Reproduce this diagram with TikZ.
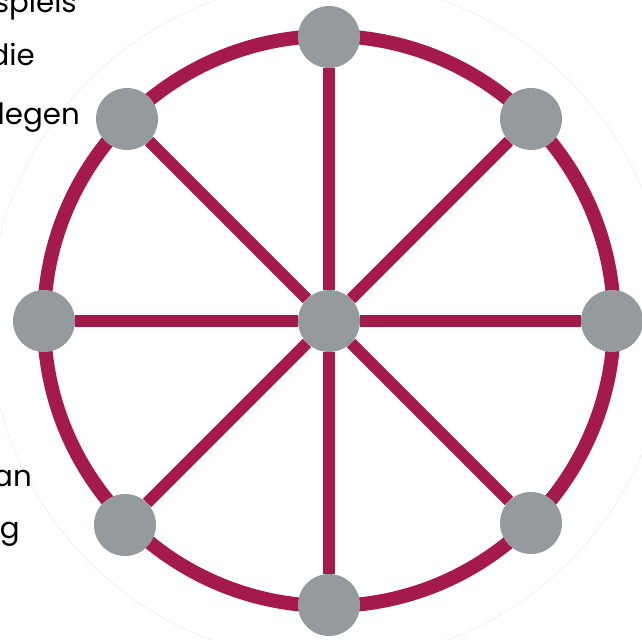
\documentclass[tikz,border=0pt]{standalone}
\usepackage{fontspec}
\setmainfont{Poppins}
\usetikzlibrary{backgrounds}
\definecolor{wheelred}{HTML}{A51A4D}
\definecolor{hubgray}{HTML}{959A9F}
\begin{document}
\begin{tikzpicture}[
    x=0.3mm, y=0.3mm,
    dot/.style={circle, fill=hubgray, minimum size=18.6mm, inner sep=0pt},
    spoke/.style={wheelred, line width=3.6mm},
    ring/.style={wheelred, line width=4.2mm},
    halo/.style={black!12, line width=0.3pt},
    frag/.style={anchor=base east, inner sep=0pt, font=\fontsize{25}{30}\selectfont}
]
\useasboundingbox (0,0) rectangle (642,639);
\clip (0,0) rectangle (642,639);

\node[dot] (hub) at (329,318) {};
\node[dot] (n) at (329,602) {};
\node[dot] (ne) at (531,520) {};
\node[dot] (e) at (612,318) {};
\node[dot] (se) at (531,116) {};
\node[dot] (s) at (329,34) {};
\node[dot] (sw) at (125,114) {};
\node[dot] (w) at (44,318) {};
\node[dot] (nw) at (127,520) {};

\node[frag] (spiels) at (77,626) {spiels};
\node[frag] (die) at (35,573) {die};
\node[frag] (legen) at (80,514) {legen};
\node[frag] (an) at (32,152) {an};
\node[frag] (g) at (20,101) {g};

\begin{scope}[on background layer]
\draw[halo] (hub) circle[radius=340];
\draw[ring] (hub) circle[radius=285];
\end{scope}

\draw[spoke] (hub) -- (n);
\draw[spoke] (hub) -- (ne);
\draw[spoke] (hub) -- (e);
\draw[spoke] (hub) -- (se);
\draw[spoke] (hub) -- (s);
\draw[spoke] (hub) -- (sw);
\draw[spoke] (hub) -- (w);
\draw[spoke] (hub) -- (nw);
\end{tikzpicture}
\end{document}
